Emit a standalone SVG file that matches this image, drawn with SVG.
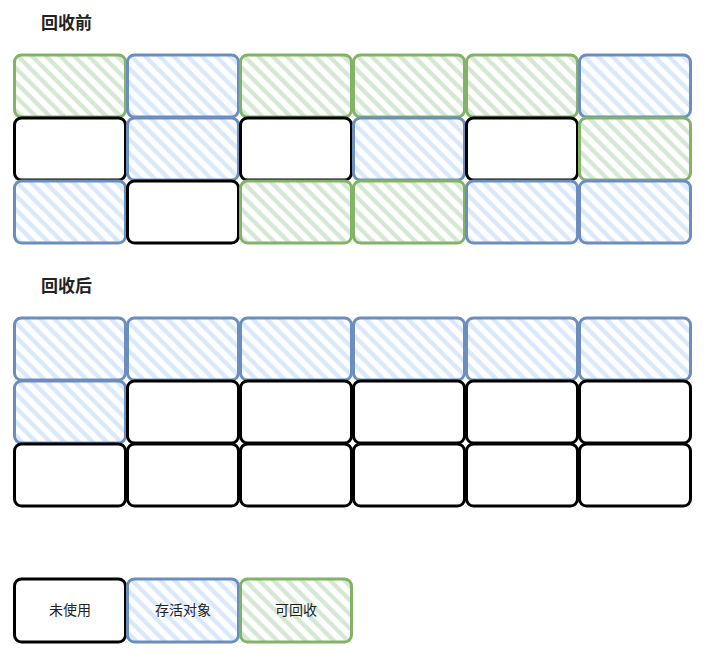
<svg xmlns="http://www.w3.org/2000/svg" width="711" height="654" viewBox="0 0 711 654">
<defs>
<pattern id="hg" width="10" height="10" patternUnits="userSpaceOnUse" patternTransform="rotate(-45)"><line x1="3" y1="0" x2="3" y2="10" stroke="#d5e8d4" stroke-width="4.5"/></pattern>
<pattern id="hb" width="10" height="10" patternUnits="userSpaceOnUse" patternTransform="rotate(-45)"><line x1="3" y1="0" x2="3" y2="10" stroke="#dae8fc" stroke-width="4.5"/></pattern>
</defs>
<style>
.g{fill:url(#hg);stroke:#82b366;stroke-width:3}
.b{fill:url(#hb);stroke:#6c8ebf;stroke-width:3}
.w{fill:#fff;stroke:#000;stroke-width:3}
.t{font-family:"Noto Sans CJK SC","Noto Sans",sans-serif;font-size:17px;font-weight:bold;fill:#222}
.l{font-family:"Noto Sans CJK SC","Noto Sans",sans-serif;font-size:14px;fill:#222;text-anchor:middle}
</style>
<rect width="711" height="654" fill="#fff"/>
<text class="t" x="41" y="29">回收前</text>
<text class="t" x="41" y="292">回收后</text>
<g id="before">
<g id="b-r1">
<rect id="b11" class="g" x="14.5" y="55" width="111" height="62" rx="7"/>
<rect id="b12" class="b" x="127.5" y="55" width="111" height="62" rx="7"/>
<rect id="b13" class="g" x="240.5" y="55" width="111" height="62" rx="7"/>
<rect id="b14" class="g" x="353.5" y="55" width="111" height="62" rx="7"/>
<rect id="b15" class="g" x="466.5" y="55" width="111" height="62" rx="7"/>
<rect id="b16" class="b" x="579.5" y="55" width="111" height="62" rx="7"/>
</g>
<g id="b-r2">
<rect id="b21" class="w" x="14.5" y="118" width="111" height="62" rx="7"/>
<rect id="b22" class="b" x="127.5" y="118" width="111" height="62" rx="7"/>
<rect id="b23" class="w" x="240.5" y="118" width="111" height="62" rx="7"/>
<rect id="b24" class="b" x="353.5" y="118" width="111" height="62" rx="7"/>
<rect id="b25" class="w" x="466.5" y="118" width="111" height="62" rx="7"/>
<rect id="b26" class="g" x="579.5" y="118" width="111" height="62" rx="7"/>
</g>
<g id="b-r3">
<rect id="b31" class="b" x="14.5" y="181" width="111" height="62" rx="7"/>
<rect id="b32" class="w" x="127.5" y="181" width="111" height="62" rx="7"/>
<rect id="b33" class="g" x="240.5" y="181" width="111" height="62" rx="7"/>
<rect id="b34" class="g" x="353.5" y="181" width="111" height="62" rx="7"/>
<rect id="b35" class="b" x="466.5" y="181" width="111" height="62" rx="7"/>
<rect id="b36" class="b" x="579.5" y="181" width="111" height="62" rx="7"/>
</g>
</g>
<g id="after">
<g id="a-r1">
<rect id="a11" class="b" x="14.5" y="318" width="111" height="62" rx="7"/>
<rect id="a12" class="b" x="127.5" y="318" width="111" height="62" rx="7"/>
<rect id="a13" class="b" x="240.5" y="318" width="111" height="62" rx="7"/>
<rect id="a14" class="b" x="353.5" y="318" width="111" height="62" rx="7"/>
<rect id="a15" class="b" x="466.5" y="318" width="111" height="62" rx="7"/>
<rect id="a16" class="b" x="579.5" y="318" width="111" height="62" rx="7"/>
</g>
<g id="a-r2">
<rect id="a21" class="b" x="14.5" y="381" width="111" height="62" rx="7"/>
<rect id="a22" class="w" x="127.5" y="381" width="111" height="62" rx="7"/>
<rect id="a23" class="w" x="240.5" y="381" width="111" height="62" rx="7"/>
<rect id="a24" class="w" x="353.5" y="381" width="111" height="62" rx="7"/>
<rect id="a25" class="w" x="466.5" y="381" width="111" height="62" rx="7"/>
<rect id="a26" class="w" x="579.5" y="381" width="111" height="62" rx="7"/>
</g>
<g id="a-r3">
<rect id="a31" class="w" x="14.5" y="444" width="111" height="62" rx="7"/>
<rect id="a32" class="w" x="127.5" y="444" width="111" height="62" rx="7"/>
<rect id="a33" class="w" x="240.5" y="444" width="111" height="62" rx="7"/>
<rect id="a34" class="w" x="353.5" y="444" width="111" height="62" rx="7"/>
<rect id="a35" class="w" x="466.5" y="444" width="111" height="62" rx="7"/>
<rect id="a36" class="w" x="579.5" y="444" width="111" height="62" rx="7"/>
</g>
</g>
<g id="legend">
<g id="leg-unused"><rect class="w" x="14.5" y="579" width="111" height="63" rx="7"/><text class="l" x="70" y="615">未使用</text></g>
<g id="leg-live"><rect class="b" x="127.5" y="579" width="111" height="63" rx="7"/><text class="l" x="183" y="615">存活对象</text></g>
<g id="leg-garbage"><rect class="g" x="240.5" y="579" width="111" height="63" rx="7"/><text class="l" x="296" y="615">可回收</text></g>
</g>
<g id="connectors"/>
</svg>
